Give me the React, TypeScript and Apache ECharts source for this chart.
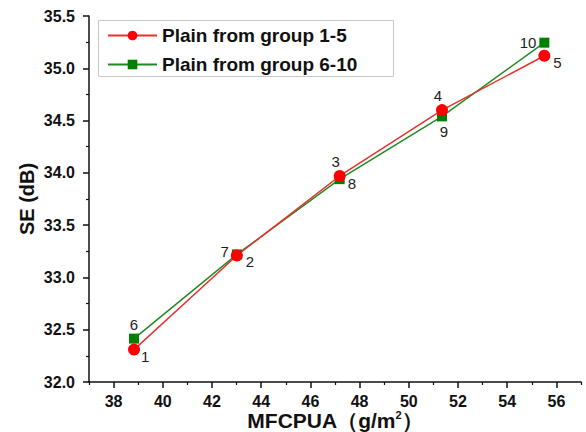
import React, { useEffect, useRef } from "react";
import * as echarts from "echarts";

const redName = "Plain from group 1-5";
const greenName = "Plain from group 6-10";
const redX = [38.83, 43.01, 47.19, 51.35, 55.51];
const redY = [32.31, 33.21, 33.97, 34.6, 35.12];
const redLabels = ["1", "2", "3", "4", "5"];
const greenX = [38.83, 43.01, 47.19, 51.35, 55.51];
const greenY = [32.415, 33.22, 33.94, 34.54, 35.245];
const greenLabels = ["6", "7", "8", "9", "10"];
const xMajorTicks = [38, 40, 42, 44, 46, 48, 50, 52, 54, 56];
const xMinorTicks = [37, 39, 41, 43, 45, 47, 49, 51, 53, 55, 57];

// label placement (style only)
const redLabelPos: [string, number[]][] = [
  ["right", [-2, 7]],
  ["right", [0, 6]],
  ["top", [-4, 2]],
  ["top", [-4, 2]],
  ["right", [0, 7]],
];
const greenLabelPos: [string, number[]][] = [
  ["top", [0, 1]],
  ["left", [0, -3]],
  ["right", [0, 4]],
  ["bottom", [2, 0]],
  ["left", [0, 0]],
];

const FONT = "Liberation Sans, Arial, sans-serif";

export default function App() {
  const ref = useRef<HTMLDivElement>(null);
  useEffect(() => {
    if (!ref.current) return;
    const chart = echarts.init(ref.current, null, { renderer: "svg" });
    const mk = (xs: number[], ys: number[], labels: string[], pos: [string, number[]][]) =>
      xs.map((x, i) => ({
        value: [x, ys[i]],
        label: {
          show: true,
          formatter: labels[i],
          position: pos[i][0],
          offset: pos[i][1],
          distance: 3,
          color: "#222",
          fontSize: 15,
          fontFamily: FONT,
        },
      }));
    chart.setOption({
      animation: false,
      backgroundColor: "#fff",
      textStyle: { fontFamily: FONT },
      grid: { left: 89, right: 5, top: 16, bottom: 50, containLabel: false, outerBoundsMode: "none" },
      graphic: [
        {
          type: "rect",
          left: 98,
          top: 20,
          shape: { width: 295, height: 56 },
          style: { fill: "#fff", stroke: "#c8c8c8", lineWidth: 1 },
          z: 5,
        },
      ],
      legend: {
        left: 98,
        top: 20,
        z: 10,
        orient: "vertical",
        itemWidth: 49,
        itemHeight: 12,
        itemGap: 10,
        padding: [6, 0, 0, 9],
        textStyle: { fontSize: 19, fontWeight: "bold", color: "#111", fontFamily: FONT },
        data: [redName, greenName],
      },
      xAxis: [
        {
          type: "value",
          min: 37,
          max: 57,
          name: "MFCPUA（g/m{sup|2}）",
          nameLocation: "middle",
          nameGap: 27,
          nameMoveOverlap: false,
          nameTextStyle: {
            fontSize: 21,
            lineHeight: 22,
            fontWeight: "bold",
            color: "#111",
            fontFamily: FONT,
            rich: { sup: { fontSize: 11, lineHeight: 12, fontWeight: "bold", verticalAlign: "top" } },
          },
          axisLine: { show: true, lineStyle: { color: "#111", width: 1.5 } },
          axisTick: { show: true, customValues: xMajorTicks, length: 6, lineStyle: { color: "#111", width: 1.5 } },
          axisLabel: {
            customValues: xMajorTicks,
            fontSize: 16,
            fontWeight: "bold",
            color: "#111",
            margin: 11,
            fontFamily: FONT,
          },
          splitLine: { show: false },
        },
        {
          type: "value",
          min: 37,
          max: 57,
          position: "bottom",
          axisLine: { show: false },
          axisTick: { show: true, customValues: xMinorTicks, length: 3, lineStyle: { color: "#111", width: 1.2 } },
          axisLabel: { show: false },
          splitLine: { show: false },
        },
      ],
      yAxis: {
        type: "value",
        min: 32,
        max: 35.5,
        interval: 0.5,
        name: "SE (dB)",
        nameLocation: "middle",
        nameGap: 52,
        nameMoveOverlap: false,
        nameTextStyle: { fontSize: 20, fontWeight: "bold", color: "#111", fontFamily: FONT },
        axisLine: { show: true, lineStyle: { color: "#111", width: 1.5 } },
        axisTick: { show: true, length: 6, lineStyle: { color: "#111", width: 1.5 } },
        minorTick: { show: true, splitNumber: 2, length: 3, lineStyle: { color: "#111", width: 1.2 } },
        axisLabel: {
          fontSize: 16,
          fontWeight: "bold",
          color: "#111",
          margin: 14,
          fontFamily: FONT,
          formatter: (v: number) => v.toFixed(1),
        },
        splitLine: { show: false },
      },
      series: [
        {
          name: redName,
          type: "line",
          z: 4,
          data: mk(redX, redY, redLabels, redLabelPos),
          symbol: "circle",
          symbolSize: 12,
          lineStyle: { color: "#e8302f", width: 1.5 },
          itemStyle: { color: "#ff0000" },
          color: "#ff0000",
        },
        {
          name: greenName,
          type: "line",
          z: 3,
          data: mk(greenX, greenY, greenLabels, greenLabelPos),
          symbol: "rect",
          symbolSize: 10,
          lineStyle: { color: "#1f8a1f", width: 1.5 },
          itemStyle: { color: "#008000" },
          color: "#008000",
        },
      ],
    });
    return () => chart.dispose();
  }, []);
  return <div ref={ref} style={{ position: "absolute", left: 0, top: 0, width: 586, height: 432 }} />;
}
